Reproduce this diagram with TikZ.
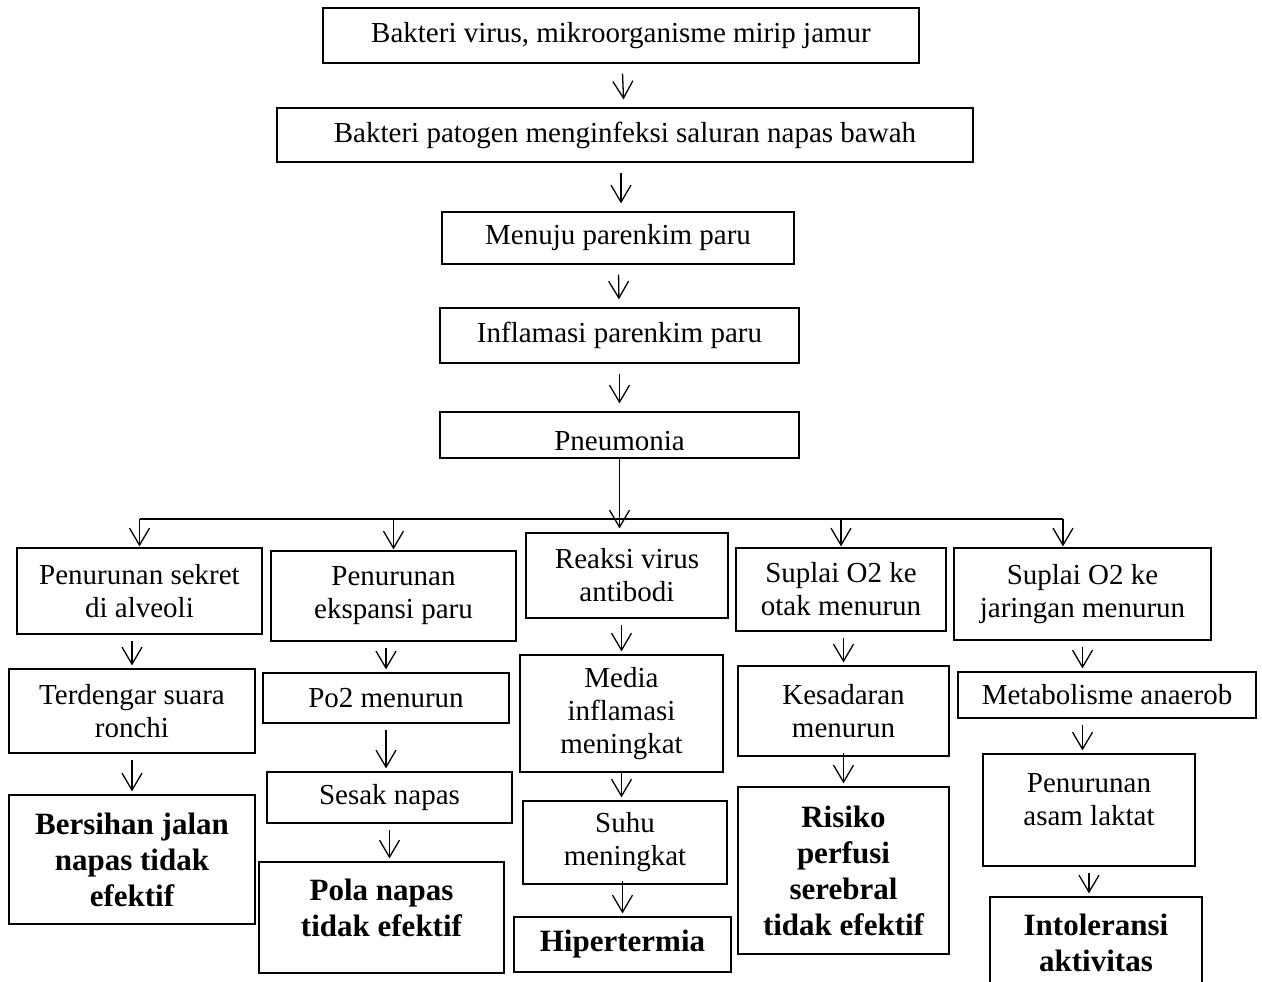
\documentclass[tikz,border=0pt]{standalone}
\usepackage{fontspec}
\setmainfont{Liberation Serif}
\usetikzlibrary{arrows.meta}

\begin{document}
\begin{tikzpicture}[x=1pt, y=-1pt,
    normal/.style={align=center, inner sep=0pt, font=\fontsize{29}{33}\selectfont},
    strong/.style={align=center, inner sep=0pt, font=\fontsize{31}{36}\selectfont\bfseries},
    box/.style={draw, line width=1.2pt, normal},
    diag/.style={box, strong},
    flow/.style={draw, line width=1.3pt, -{Straight Barb[length=17pt, width=20pt, line width=1.3pt]}, shorten <=6pt, shorten >=3pt},
    chain/.style={flow, shorten <=10pt, shorten >=8pt},
    bus/.style={draw, line width=2.6pt}]
    \useasboundingbox (0,0) rectangle (1262,982);

    % main chain
    \node[box, minimum width=596pt, minimum height=55pt] (bakteri) at (621,35.5) {Bakteri virus, mikroorganisme mirip jamur};
    \node[box, minimum width=696pt, minimum height=54pt] (patogen) at (625,135) {Bakteri patogen menginfeksi saluran napas bawah};
    \node[box, minimum width=352pt, minimum height=52pt] (parenkim) at (618,238) {Menuju parenkim paru};
    \node[box, minimum width=359pt, minimum height=55pt] (inflamasi) at (619.5,335.5) {Inflamasi parenkim paru};
    \node[box, minimum width=359pt, minimum height=46pt,
          label={[normal, yshift=-6pt]center:Pneumonia}] (pneumonia) at (619.5,435) {};
    \draw[chain] (bakteri) -- (patogen);
    \draw[chain] (patogen.south -| bakteri.south) -- (parenkim.north -| bakteri.south);
    \draw[chain] (parenkim) -- (inflamasi);
    \draw[chain] (inflamasi) -- (pneumonia);

    % first row
    \node[box, minimum width=245pt, minimum height=86pt] (sekret) at (139.5,591) {Penurunan sekret\\di alveoli};
    \node[box, minimum width=245pt, minimum height=90pt] (ekspansi) at (393.5,596) {Penurunan\\ekspansi paru};
    \node[box, minimum width=202pt, minimum height=85pt] (reaksi) at (627,575.5) {Reaksi virus\\antibodi};
    \node[box, minimum width=210pt, minimum height=83pt] (suplaiotak) at (841,589.5) {Suplai O2 ke\\otak menurun};
    \node[box, minimum width=257pt, minimum height=92pt] (suplaijar) at (1082.5,594) {Suplai O2 ke\\jaringan menurun};

    \coordinate (busE) at (1063,519);
    \draw[bus] (sekret.north |- busE) -- (busE);
    \draw[flow, shorten <=0pt, shorten >=4pt] (pneumonia.south) -- (pneumonia.south |- reaksi.north);
    \foreach \n in {sekret, ekspansi, suplaiotak}
        \draw[flow, shorten <=0pt, shorten >=1pt] (\n.north |- busE) -- (\n.north);
    \draw[flow, shorten <=0pt, shorten >=1pt] (busE) -- (busE |- suplaijar.north);

    % column 1
    \node[box, minimum width=246pt, minimum height=84pt] (ronchi) at (132,711) {Terdengar suara\\ronchi};
    \node[diag, minimum width=246pt, minimum height=129pt] (bersihan) at (132,859.5) {Bersihan jalan\\napas tidak\\efektif};
    \draw[flow] (ronchi.north |- sekret.south) -- (ronchi.north);
    \draw[flow] (ronchi) -- (bersihan);

    % column 2
    \node[box, minimum width=246pt, minimum height=50pt] (potwo) at (386,698) {Po2 menurun};
    \node[box, minimum width=245pt, minimum height=51pt] (sesak) at (389.5,797.5) {Sesak napas};
    \node[diag, minimum width=245pt, minimum height=111pt,
          label={[strong, yshift=10pt]center:{Pola napas\\tidak efektif}}] (pola) at (381.5,917.5) {};
    \draw[flow] (potwo.north |- ekspansi.south) -- (potwo.north);
    \draw[flow] (potwo.south) -- (potwo.south |- sesak.north);
    \draw[flow] (sesak.south) -- (sesak.south |- pola.north);

    % column 3
    \node[box, minimum width=203pt, minimum height=117pt] (media) at (621.5,713.5) {Media\\inflamasi\\meningkat};
    \node[box, minimum width=204pt, minimum height=83pt] (suhu) at (625,842.5) {Suhu\\meningkat};
    \node[diag, minimum width=217pt, minimum height=55pt] (hiper) at (622.5,944.5) {Hipertermia};
    \draw[flow] (media.north |- reaksi.south) -- (media.north);
    \draw[flow, shorten <=0pt] (media.south) -- (media.south |- suhu.north);
    \draw[flow, shorten <=-4pt] (hiper.north |- suhu.south) -- (hiper.north);

    % column 4
    \node[box, minimum width=211pt, minimum height=90pt] (sadar) at (843.5,711) {Kesadaran\\menurun};
    \node[diag, minimum width=211pt, minimum height=167pt] (risiko) at (843.5,870.5) {Risiko\\perfusi\\serebral\\tidak efektif};
    \draw[flow] (sadar.north |- suplaiotak.south) -- (sadar.north);
    \draw[flow, shorten <=-4pt] (sadar) -- (risiko);

    % column 5
    \node[box, minimum width=298pt, minimum height=46pt] (anaerob) at (1107,695) {Metabolisme anaerob};
    \node[box, minimum width=212pt, minimum height=112pt,
          label={[normal, yshift=10pt]center:{Penurunan\\asam laktat}}] (laktat) at (1089,810) {};
    \node[diag, minimum width=212pt, minimum height=110pt,
          label={[strong, yshift=9pt]center:{Intoleransi\\aktivitas}}] (intol) at (1096,952) {};
    \draw[flow] (suplaijar.south) -- (suplaijar.south |- anaerob.north);
    \draw[flow] (suplaijar.south |- anaerob.south) -- (suplaijar.south |- laktat.north);
    \draw[flow] (laktat.south) -- (laktat.south |- intol.north);
\end{tikzpicture}
\end{document}
